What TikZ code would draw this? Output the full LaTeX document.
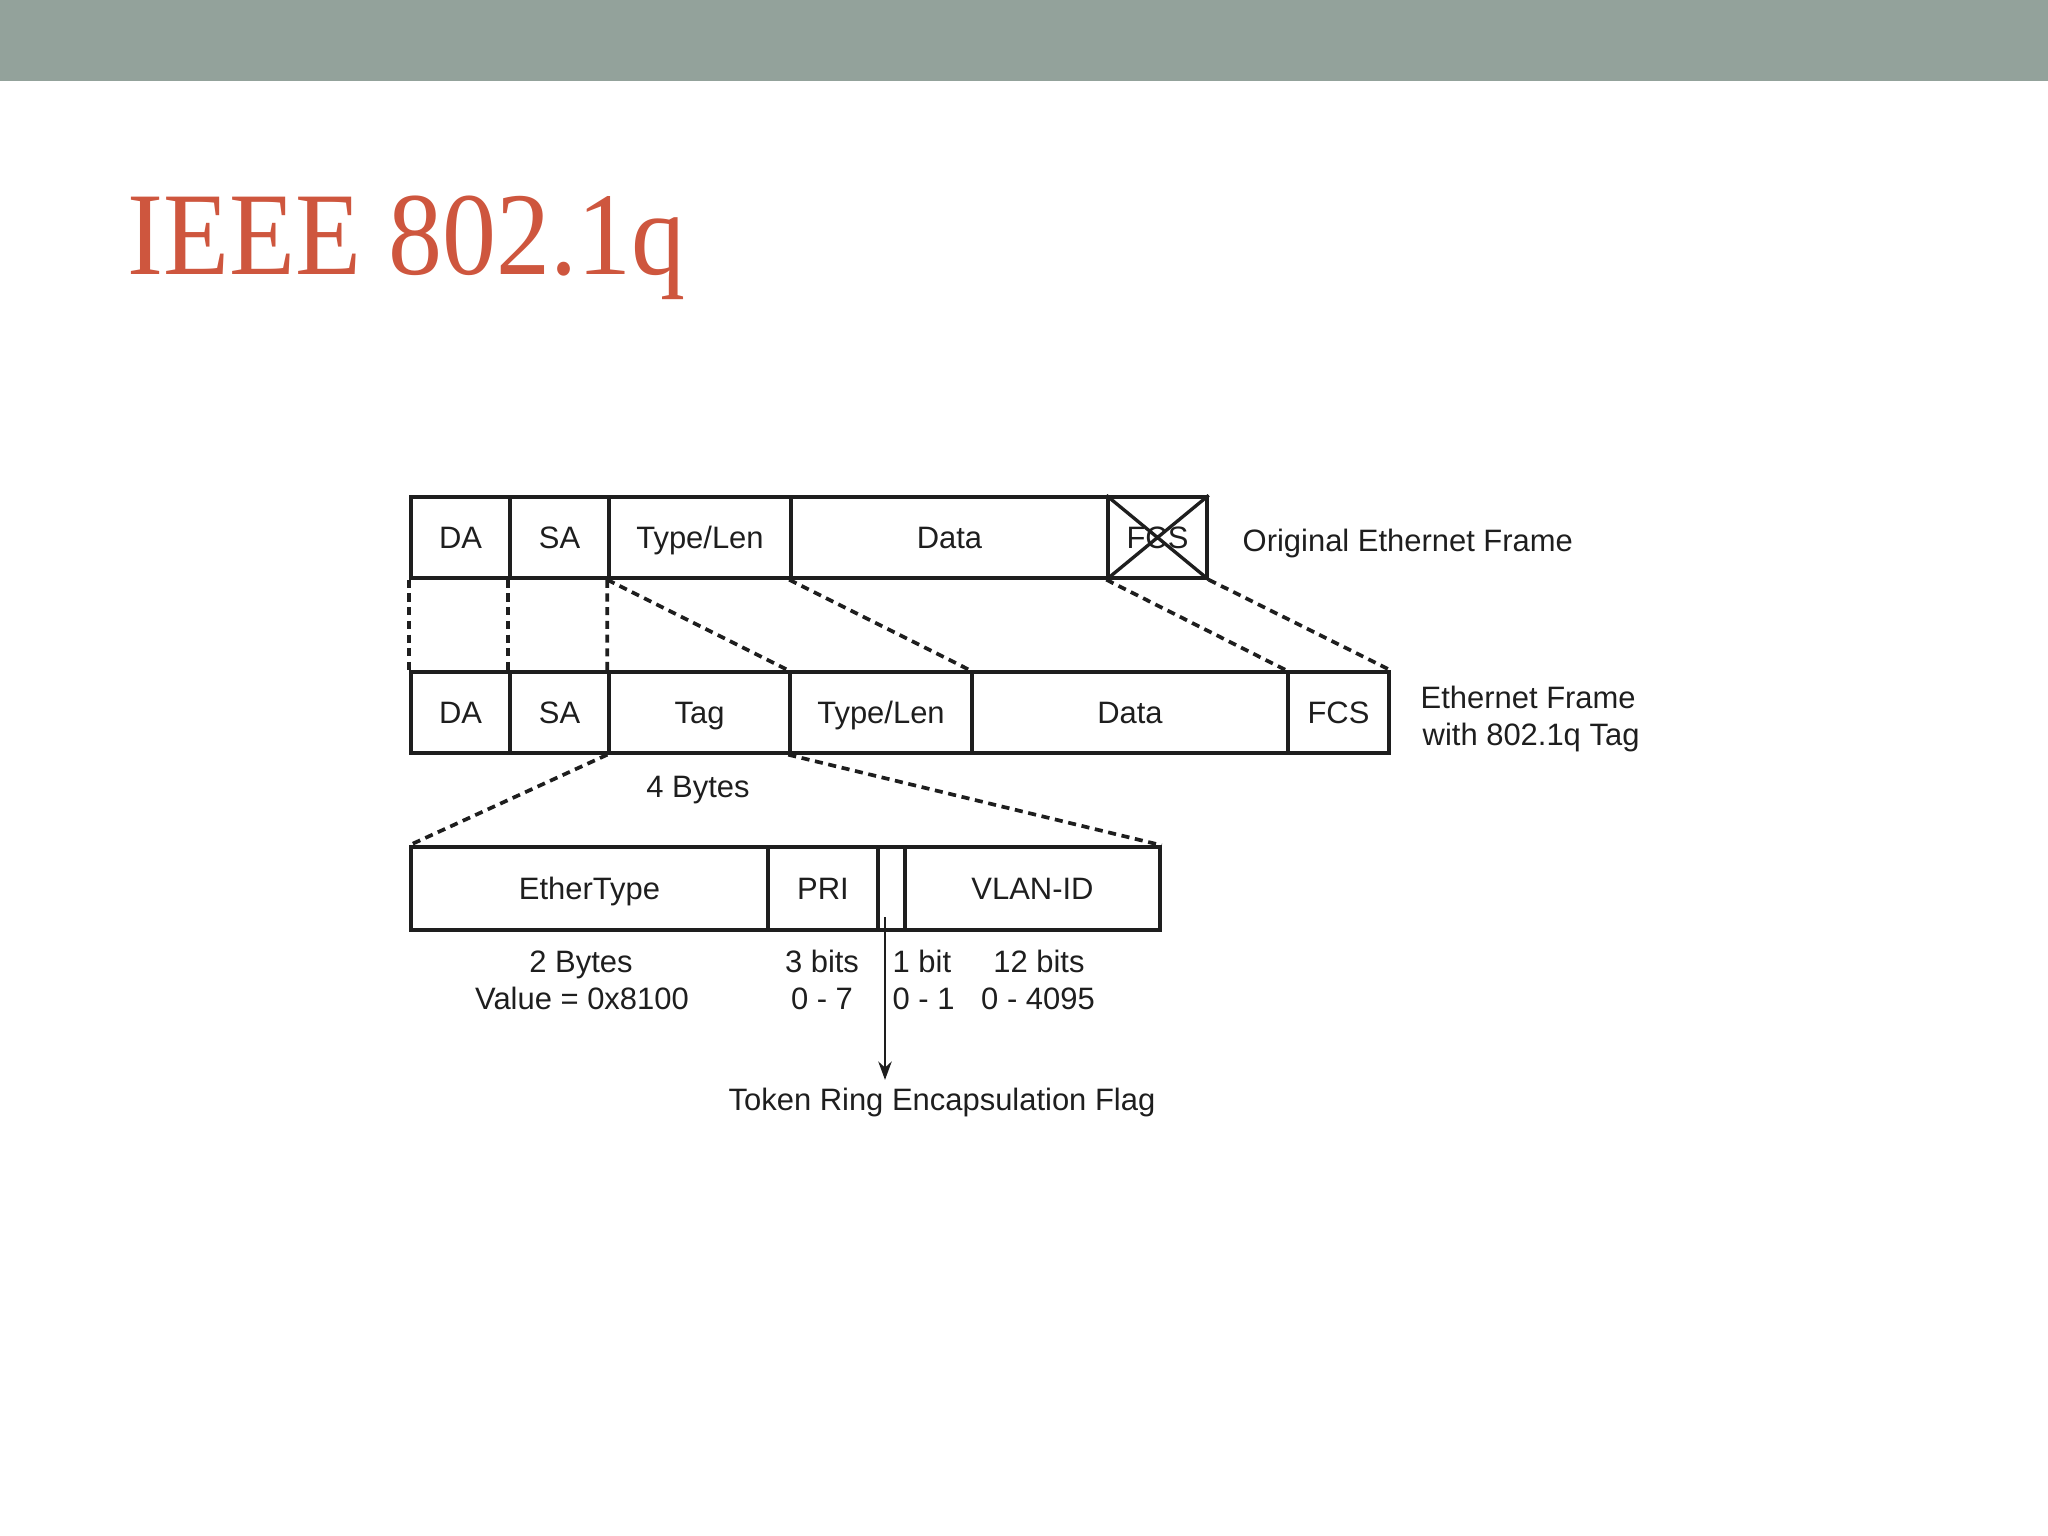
\documentclass[tikz,border=0pt]{standalone}
\usepackage{graphicx}
\usepackage{fontspec}
\setmainfont{Liberation Sans}
\newfontfamily\titlefont{Liberation Serif}
\usetikzlibrary{arrows.meta}
\definecolor{band}{RGB}{147,162,155}
\definecolor{titlered}{RGB}{206,86,62}
\definecolor{ink}{RGB}{30,30,30}
\begin{document}
\begin{tikzpicture}[x=0.01cm,y=-0.01cm,
  fld/.style={draw=ink, line width=0.95pt, inner sep=0pt, minimum height=0.81cm,
    text height=6.3pt, text depth=0pt, font=\fontsize{8.8}{11}\selectfont, text=ink},
  lbl/.style={inner sep=0pt, anchor=base, font=\fontsize{8.8}{11}\selectfont, text=ink},
  link/.style={draw=ink, line width=1.05pt, dash pattern=on 2.3pt off 1.6pt},
  arr/.style={draw=ink, line width=0.75pt, -{Stealth[length=5.2pt,width=3.8pt]}},
]
\useasboundingbox (0,0) rectangle (2048,1536);
\fill[band] (0,0) rectangle (2048,81);
\node[anchor=base west, inner sep=0pt, text=titlered,
  font=\titlefont\fontsize{33.6}{40}\selectfont] (title) at (127,274)
  {\scalebox{0.914}[1]{IEEE 802.1q}};

% Row 1: original frame
\node[fld, minimum width=0.99cm] (da1)   at (460.5,537.5) {DA};
\node[fld, minimum width=0.99cm] (sa1)   at (559.5,537.5) {SA};
\node[fld, minimum width=1.82cm] (tl1)   at (700,537.5)   {Type/Len};
\node[fld, minimum width=3.17cm] (data1) at (949.5,537.5) {Data};
\node[fld, minimum width=0.99cm] (fcs1)  at (1157.5,537.5) {FCS};
\draw[ink, line width=0.95pt] (fcs1.north west) -- (fcs1.south east)
  (fcs1.south west) -- (fcs1.north east);
\node[lbl, anchor=base west] (orig) at (1242,551) {Original Ethernet Frame};

% Row 2: tagged frame
\node[fld, minimum width=0.99cm] (da2)   at (460.5,712.5) {DA};
\node[fld, minimum width=0.99cm] (sa2)   at (559.5,712.5) {SA};
\node[fld, minimum width=1.81cm] (tag)   at (699.5,712.5) {Tag};
\node[fld, minimum width=1.82cm] (tl2)   at (881,712.5)   {Type/Len};
\node[fld, minimum width=3.16cm] (data2) at (1130,712.5)  {Data};
\node[fld, minimum width=1.01cm] (fcs2)  at (1338.5,712.5) {FCS};
\node[lbl, anchor=base west] (eth1) at (1420,708) {Ethernet Frame};
\node[lbl, anchor=base west] (eth2) at (1422,745) {with 802.1q Tag};
\node[lbl] (four) at (698,797) {4 Bytes};

% Row 3: tag detail
\node[fld, minimum height=0.83cm, minimum width=3.57cm] (ety)  at (589.5,888.5) {EtherType};
\node[fld, minimum height=0.83cm, minimum width=1.10cm] (pri)  at (823,888.5)   {PRI};
\node[fld, minimum height=0.83cm, minimum width=0.27cm] (flag) at (891.5,888.5) {};
\node[fld, minimum height=0.83cm, minimum width=2.55cm] (vlan) at (1032.5,888.5) {VLAN-ID};

\node[lbl] (twob)  at (581,972)  {2 Bytes};
\node[lbl] (val)   at (582,1009) {Value = 0x8100};
\node[lbl] (threeb) at (822,972) {3 bits};
\node[lbl] (r07)   at (822,1009) {0 - 7};
\node[lbl, anchor=base west] (oneb) at (892,972)  {1 bit};
\node[lbl, anchor=base west] (r01)  at (892,1009) {0 - 1};
\node[lbl] (twelveb) at (1039,972) {12 bits};
\node[lbl] (r4095) at (1038,1009) {0 - 4095};
\node[lbl] (tok) at (942,1110) {Token Ring Encapsulation Flag};

% dashed mapping lines
\draw[link] (da1.south west) -- (da2.north west);
\draw[link] (sa1.south west) -- (sa2.north west);
\draw[link] (tl1.south west) -- (tag.north west);
\draw[link] (tl1.south west) -- (tl2.north west);
\draw[link] (data1.south west) -- (data2.north west);
\draw[link] (fcs1.south west) -- (fcs2.north west);
\draw[link] (fcs1.south east) -- (fcs2.north east);
\draw[link] (tag.south west) -- (ety.north west);
\draw[link] (tl2.south west) -- (vlan.north east);

% arrow to flag label
\coordinate (fa) at (885,917);
\draw[arr, shorten >=0.07cm] (fa) -- (fa |- tok.north);
\end{tikzpicture}
\end{document}
